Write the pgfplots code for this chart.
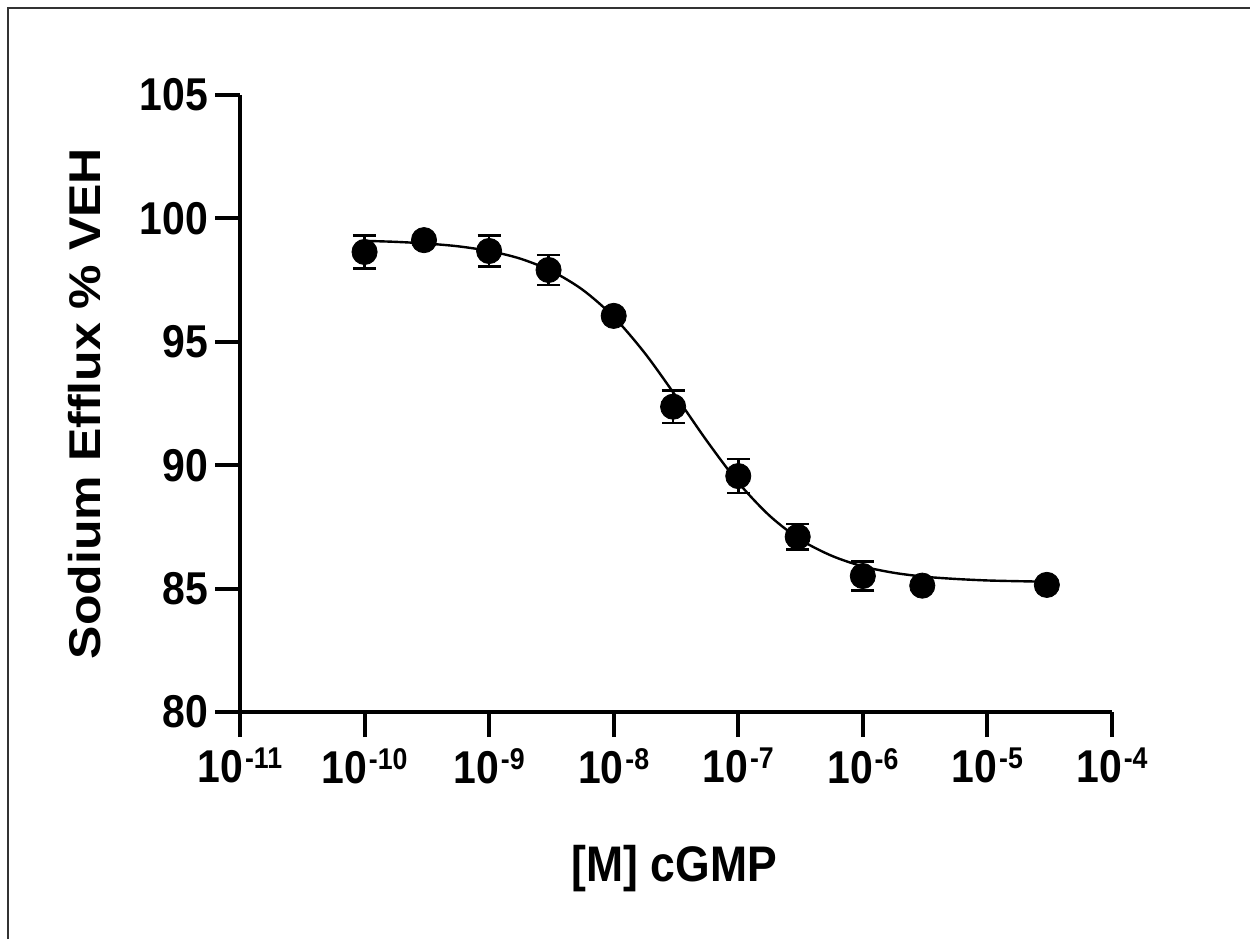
\documentclass[border=0pt]{standalone}
\usepackage{fontspec}
\setmainfont{Liberation Sans}
\usepackage{graphicx}
\usepackage{pgfplots}
\pgfplotsset{compat=1.18}

% the source picture is squeezed a little horizontally
\newcommand{\sq}[1]{\scalebox{0.89}[1]{#1}}
\newcommand{\dec}[1]{\sq{10\kern1pt\raisebox{7pt}{\fontsize{15}{15}\selectfont #1}}}

\begin{document}
\begin{tikzpicture}
\begin{axis}[
  scale only axis,
  width=436pt, height=308.5pt,
  xmode=log,
  xmin=1e-11, xmax=1e-4,
  ymin=80, ymax=105,
  ytick={80,85,90,95,100,105},
  yticklabel={\sq{\pgfmathprintnumber{\tick}}},
  xtick={1e-11,1e-10,1e-9,1e-8,1e-7,1e-6,1e-5,1e-4},
  xticklabels={\dec{-11},\dec{-10},\dec{-9},\dec{-8},\dec{-7},\dec{-6},\dec{-5},\dec{-4}},
  xticklabel style={yshift=-2pt},
  xminorticks=false,
  axis x line*=bottom,
  axis y line*=left,
  axis line style={line width=2pt},
  every tick/.style={line width=2pt, black},
  tick align=outside,
  major tick length=12.5pt,
  tick label style={font=\fontsize{23}{27}\selectfont\bfseries},
  /pgf/number format/assume math mode=true,
  xlabel={\sq{[M] cGMP}},
  ylabel={\scalebox{1}[0.89]{Sodium Efflux \% VEH}},
  label style={font=\fontsize{25}{30}\selectfont\bfseries},
  xlabel style={at={(axis description cs:0.498,-0.2545)}, anchor=center},
  ylabel style={at={(axis description cs:-0.178,0.5)}, anchor=center},
  clip=false,
]
% fitted curve
\addplot[black, line width=1.2pt, smooth] coordinates {
  (1e-10,99.09) (1.778e-10,99.05) (3.162e-10,98.98) (5.623e-10,98.87)
  (1e-9,98.68) (1.778e-9,98.37) (3.162e-9,97.87) (5.623e-9,97.11)
  (1e-8,96.01) (1.778e-8,94.54) (3.162e-8,92.79) (5.623e-8,90.97)
  (1e-7,89.30) (1.778e-7,87.96) (3.162e-7,86.98) (5.623e-7,86.33)
  (1e-6,85.90) (1.778e-6,85.64) (3.162e-6,85.48) (5.623e-6,85.39)
  (1e-5,85.33) (1.778e-5,85.30) (3e-5,85.28)
};
% error bars
\addplot[draw=none, mark=none,
  error bars/.cd, y dir=both, y explicit,
  error bar style={line width=1.3pt, black},
  error mark=|,
  error mark options={mark size=5.8pt, line width=1.3pt, draw=black},
] coordinates {
  (1e-10,98.64) +- (0,0.66)
  (1e-9,98.68) +- (0,0.62)
  (3e-9,97.91) +- (0,0.61)
  (3e-8,92.37) +- (0,0.66)
  (1e-7,89.56) +- (0,0.69)
  (3e-7,87.10) +- (0,0.51)
  (1e-6,85.51) +- (0,0.58)
};
% means
\addplot[only marks, mark=*, mark size=6.3pt, black] coordinates {
  (1e-10,98.64) (3e-10,99.12) (1e-9,98.68) (3e-9,97.91) (1e-8,96.05)
  (3e-8,92.37) (1e-7,89.56) (3e-7,87.10) (1e-6,85.51) (3e-6,85.12)
  (3e-5,85.15)
};
\end{axis}
% outer frame (top and left edges) and page size
\path[use as bounding box] (-120pt,-113.5pt) rectangle (505pt,356pt);
\draw[line width=1pt, black!80] (-116pt,-113.5pt) -- (-116pt,352pt) -- (505pt,352pt);
\end{tikzpicture}
\end{document}
